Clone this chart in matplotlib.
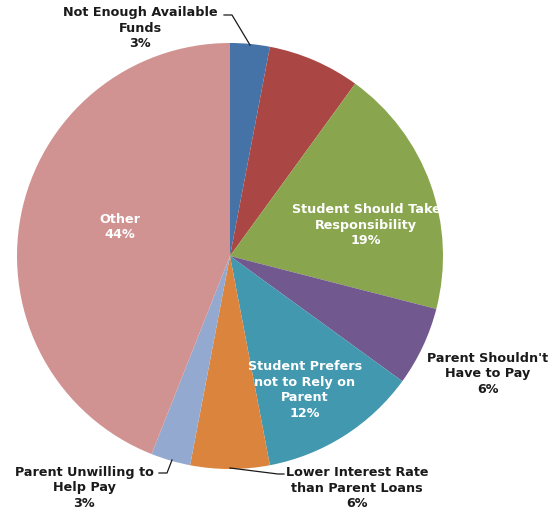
import matplotlib
matplotlib.use("Agg")
import matplotlib.pyplot as plt

# Reasons students give for taking out their own loans
categories = [
    "Not Enough Available\nFunds",
    "",
    "Student Should Take\nResponsibility",
    "Parent Shouldn't\nHave to Pay",
    "Student Prefers\nnot to Rely on\nParent",
    "Lower Interest Rate\nthan Parent Loans",
    "Parent Unwilling to\nHelp Pay",
    "Other",
]
shares = [3, 7, 19, 6, 12, 6, 3, 44]
colors = ["#4572A7", "#AA4643", "#89A54E", "#71588F",
          "#4198AF", "#DB843D", "#93A9CF", "#D19392"]

W, H = 551, 514
fig = plt.figure(figsize=(W / 100, H / 100), dpi=100)
ax = fig.add_axes([0, 0, 1, 1])

cx, cy, r = 230, H - 256, 213
ax.pie(shares, colors=colors, startangle=90, counterclock=False,
       center=(cx, cy), radius=r, frame=True,
       wedgeprops=dict(linewidth=0))
ax.set_xlim(0, W)
ax.set_ylim(0, H)
ax.set_aspect("equal")
ax.axis("off")

font = dict(family="DejaVu Sans", fontweight="bold", fontsize=9.2,
            ha="center", va="center", linespacing=1.28)

def label(i, x, y, color):
    if not categories[i]:
        return
    ax.text(x, H - y, f"{categories[i]}\n{shares[i]}%", color=color, **font)

label(0, 140, 28, "#1a1a1a")
label(2, 366, 225, "white")
label(3, 488, 374, "#1a1a1a")
label(4, 305, 390, "white")
label(5, 357, 488, "#1a1a1a")
label(6, 84, 488, "#1a1a1a")
label(7, 120, 227, "white")

# leader lines for labels placed outside the pie
def leader(pts):
    xs = [p[0] for p in pts]
    ys = [H - p[1] for p in pts]
    ax.plot(xs, ys, color="#1a1a1a", lw=0.9)

leader([(224, 15), (232, 15), (250, 45)])
leader([(230, 468), (278, 474), (284, 474)])
leader([(172, 460), (167, 473), (159, 473)])

fig.savefig("out.png", dpi=100)
